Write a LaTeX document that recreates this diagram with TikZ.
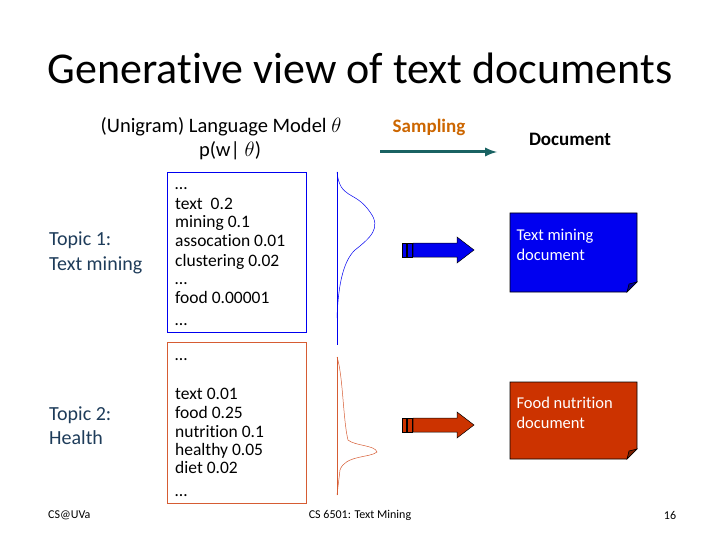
\documentclass[tikz,border=0pt]{standalone}
\usepackage{fontspec}
\setmainfont[RawFeature=-liga]{Carlito}
\begin{document}
\begin{tikzpicture}[x=1pt,y=-1pt,
  lbl/.style={anchor=base west,inner sep=0pt,font=\fontsize{17.5}{17.5}\selectfont},
  doc/.style={draw=black,line width=0.6pt},
  fat/.style={draw=black,line width=0.5pt}]
\useasboundingbox (0,0) rectangle (720,540);
\definecolor{bl}{RGB}{0,0,240}
\definecolor{rd}{RGB}{204,51,0}
\definecolor{tl}{RGB}{31,122,122}
\definecolor{sm}{RGB}{204,102,0}
\definecolor{tp}{RGB}{30,60,90}
\node (title) at (360,68) {\fontsize{44}{44}\selectfont Generative view of text documents};
\node (lm) at (221,127) {\fontsize{20.5}{20.5}\selectfont (Unigram) Language Model $\theta$};
\node (pw) at (230,151) {\fontsize{20.5}{20.5}\selectfont p(w| $\theta$)};
\node[text=sm] (samp) at (429,127) {\fontsize{19}{19}\selectfont\bfseries Sampling};
\node (docl) at (570,139) {\fontsize{19}{19}\selectfont\bfseries Document};
\coordinate (sa) at (380,152); \coordinate (sb) at (497,152);
\draw[tl!80!black,line width=3pt,-latex] (sa) -- (sb);
\node[lbl,text=tp,font=\fontsize{20}{20}\selectfont] (t1a) at (49,245) {Topic 1:};
\node[lbl,text=tp,font=\fontsize{20}{20}\selectfont] (t1b) at (49,270) {Text mining};
\node[lbl,text=tp,font=\fontsize{20}{20}\selectfont] (t2a) at (49,420) {Topic 2:};
\node[lbl,text=tp,font=\fontsize{20}{20}\selectfont] (t2b) at (49,444) {Health};
\draw[bl,line width=0.8pt] (167,172) rectangle (306,332);
\draw[rd!80,line width=0.8pt] (167,342) rectangle (306,503);
\foreach \t/\y in {…/190,text\ \ 0.2/210,mining 0.1/228,assocation 0.01/247,clustering 0.02/266,…/284,food 0.00001/303,…/325}
  \node[lbl] at (175,\y) {\t};
\foreach \t/\y in {…/360,text 0.01/399,food 0.25/418,nutrition 0.1/437,healthy 0.05/455,diet 0.02/473,…/496}
  \node[lbl] at (175,\y) {\t};
\draw[bl,line width=0.8pt] (337,172) -- (337,345);
\draw[bl,line width=0.5pt] (337,172) .. controls (340,200) and (355,190) .. (370,212) .. controls (382,228) and (370,238) .. (355,250) .. controls (342,262) and (338,290) .. (337,318);
\draw[rd!80,line width=0.6pt] (337,357) -- (337,495);
\draw[rd!80,line width=0.5pt] (337,357) .. controls (343,375) and (343,420) .. (348,440) .. controls (355,446) and (375,445) .. (377,452) .. controls (370,458) and (345,455) .. (340,470) -- (337,495);
\foreach \c/\y/\n in {bl/250/ab,rd/425/ar}{
  \fill[\c,fat] (402,\y-7) rectangle (406,\y+7);
  \fill[\c,fat] (407,\y-7) rectangle (412,\y+7);
  \fill[\c,fat] (413,\y-7) -- (457,\y-7) -- (457,\y-13) -- (474,\y) -- (457,\y+13) -- (457,\y+7) -- (413,\y+7) -- cycle;
}
\fill[bl,doc] (510,213) -- (637,213) -- (637,282) -- (627,292) -- (510,292) -- cycle;
\fill[bl!60!black,doc] (637,282) -- (627,292) -- (629,284) -- cycle;
\node[anchor=north west,text=white,align=left,font=\fontsize{16.5}{20}\selectfont] (d1) at (513,226) {Text mining\\document};
\fill[rd,doc] (510,382) -- (637,382) -- (637,449) -- (627,459) -- (510,459) -- cycle;
\fill[rd!60!black,doc] (637,449) -- (627,459) -- (629,451) -- cycle;
\node[anchor=north west,text=white,align=left,font=\fontsize{16.5}{20}\selectfont] (d2) at (513,394) {Food nutrition\\document};
\node[anchor=west,inner sep=0pt,font=\fontsize{12}{12}\selectfont] (f1) at (48,515) {CS@UVa};
\node[font=\fontsize{12}{12}\selectfont] (f2) at (360,515) {CS 6501: Text Mining};
\node[font=\fontsize{12}{12}\selectfont] (f3) at (670,515) {16};
\end{tikzpicture}
\end{document}
